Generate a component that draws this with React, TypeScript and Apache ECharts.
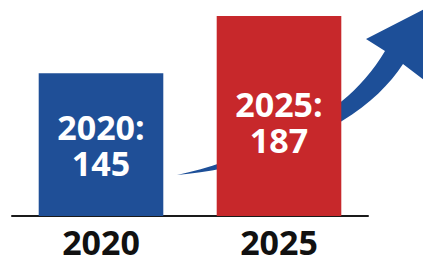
import React, { useEffect, useRef } from "react";
import * as echarts from "echarts";

const categories = ["2020", "2025"];
const values = [145, 187];
const barColors = ["#1f4f97", "#c7282b"];
const labelOffsets = [[0, 0], [0, 6]];

const ARROW_D =
  "M177 175 C240 162, 305 128, 342 101 C358 88, 374 70, 385 51 L366 39 L446 -2 L432 86 L403 64 C390 84, 370 104, 342 121 C300 148, 240 170, 177 175 Z";

export default function App() {
  const ref = useRef<HTMLDivElement>(null);
  useEffect(() => {
    if (!ref.current) return;
    try {
      echarts.graphic.registerShape("arrowSwoosh", echarts.graphic.extendPath(ARROW_D, {}));
    } catch (e) {}
    const chart = echarts.init(ref.current, null, { renderer: "svg" });
    chart.setOption({
      animation: false,
      backgroundColor: "#ffffff",
      grid: { left: 12, right: 55, top: 12, bottom: 41 },
      xAxis: {
        type: "category",
        data: categories,
        axisLine: { lineStyle: { color: "#1a1a1a", width: 2 } },
        axisTick: { show: false },
        axisLabel: {
          color: "#111111",
          fontSize: 34,
          lineHeight: 34,
          fontWeight: "bold",
          fontFamily: "Open Sans",
          margin: 9,
        },
      },
      yAxis: {
        type: "value",
        min: 40,
        max: 190,
        show: false,
        splitLine: { show: false },
      },
      graphic: [
        {
          type: "arrowSwoosh",
          x: 0,
          y: 0,
          z: 0,
          silent: true,
          style: { fill: "#1d4f98" },
        },
      ],
      series: [
        {
          type: "bar",
          barWidth: "70%",
          z: 5,
          data: values.map((v, i) => ({
            value: v,
            itemStyle: { color: barColors[i] },
            label: { offset: labelOffsets[i] },
          })),
          label: {
            show: true,
            position: "inside",
            formatter: "{b}:\n{c}",
            color: "#ffffff",
            fontSize: 34,
            lineHeight: 36,
            fontWeight: "bold",
            fontFamily: "Open Sans",
          },
        },
      ],
    });
    return () => chart.dispose();
  }, []);
  return (
    <div
      ref={ref}
      style={{ position: "fixed", left: 0, top: 0, width: 423, height: 259 }}
    />
  );
}
